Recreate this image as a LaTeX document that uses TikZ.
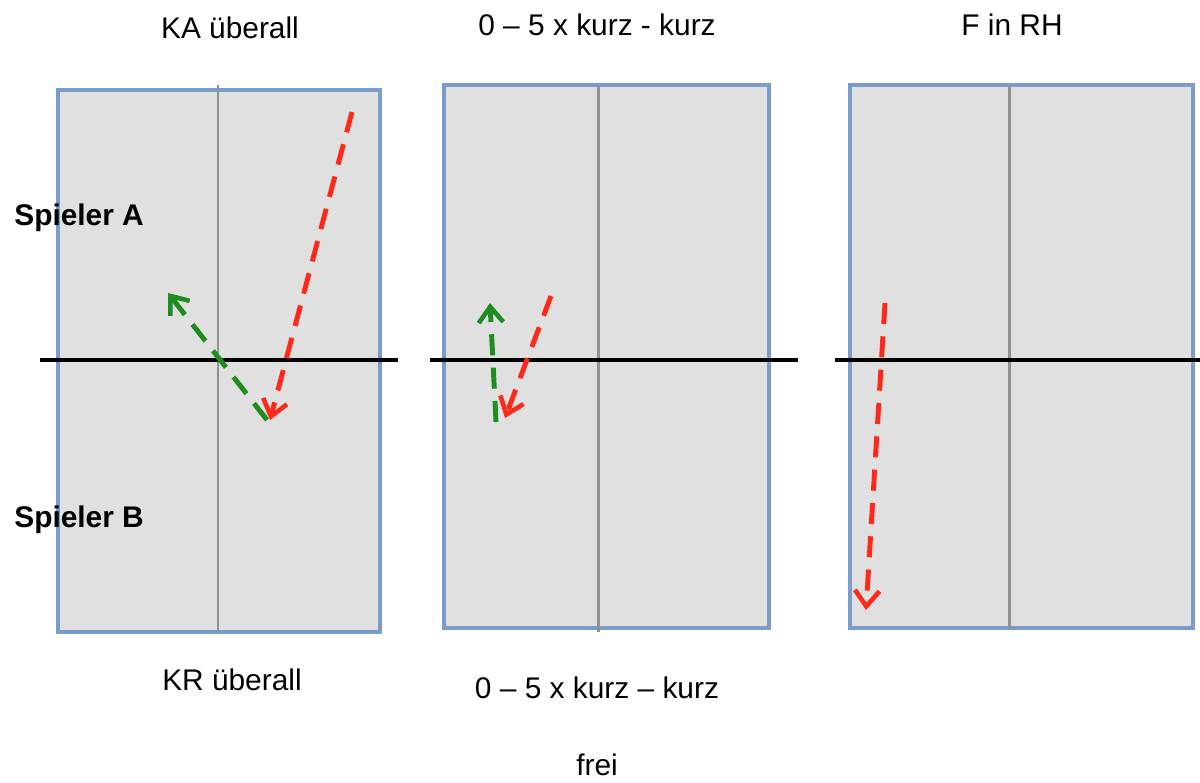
\documentclass[tikz,border=0pt]{standalone}
\usepackage{fontspec}
\setmainfont{Liberation Sans}
\usetikzlibrary{arrows.meta}
\definecolor{courtfill}{RGB}{224,224,224}
\definecolor{courtedge}{RGB}{122,156,200}
\definecolor{midline}{RGB}{145,145,145}
\definecolor{redball}{RGB}{255,40,25}
\definecolor{greenball}{RGB}{30,140,30}
\tikzset{
  court/.style={fill=courtfill,draw=courtedge,line width=1.8pt},
  centerline/.style={draw=midline,line width=1.7pt},
  netline/.style={draw=black,line width=1.8pt},
  redpath/.style={draw=redball,line width=2.8pt,dash pattern=on 12pt off 7pt,-{Straight Barb[length=9pt,width=14pt,line width=2.6pt]}},
  greenpath/.style={draw=greenball,line width=2.8pt,dash pattern=on 12pt off 7pt,-{Straight Barb[length=9pt,width=14pt,line width=2.6pt]}},
  lbl/.style={font=\fontsize{17pt}{20pt}\selectfont,inner sep=0pt},
  blbl/.style={font=\fontsize{17pt}{20pt}\selectfont\bfseries,inner sep=0pt,anchor=west}
}
\begin{document}
\begin{tikzpicture}[x=0.02cm,y=-0.02cm]
\useasboundingbox (0,0) rectangle (1200,782);
% courts
\path[court] (58,90) rectangle (380,632);
\path[court] (444,85) rectangle (769,628);
\path[court] (850,85) rectangle (1193,628);
% center lines
\path[centerline] (218,85) -- (218,632);
\path[centerline] (598,85) -- (598,632);
\path[centerline] (1009,85) -- (1009,628);
% net lines
\path[netline] (40,360) -- (398,360);
\path[netline] (430,360) -- (798,360);
\path[netline] (835,360) -- (1200,360);
% coordinates
\coordinate (r1s) at (352,112);
\coordinate (r1e) at (270,420);
\coordinate (g1s) at (267,420);
\coordinate (g1e) at (168,293);
\coordinate (g2s) at (496,422);
\coordinate (g2e) at (490,303);
\coordinate (r2s) at (551,296);
\coordinate (r2e) at (505,418);
\coordinate (r3s) at (885,303);
\coordinate (r3e) at (866,610);
% paths
\draw[redpath] (r1s) -- (r1e);
\draw[greenpath] (g1s) -- (g1e);
\draw[greenpath] (g2s) -- (g2e);
\draw[redpath] (r2s) -- (r2e);
\draw[redpath] (r3s) -- (r3e);
% labels
\node[lbl] (t1) at (230,28) {KA überall};
\node[lbl] (t2) at (597,25) {0 – 5 x kurz - kurz};
\node[lbl] (t3) at (1012,25) {F in RH};
\node[blbl] (pa) at (14,218) {Spieler A};
\node[blbl] (pb) at (14,520) {Spieler B};
\node[lbl] (b1) at (232,680) {KR überall};
\node[lbl] (b2) at (597,688) {0 – 5 x kurz – kurz};
\node[lbl] (b3) at (597,765) {frei};
\end{tikzpicture}
\end{document}
